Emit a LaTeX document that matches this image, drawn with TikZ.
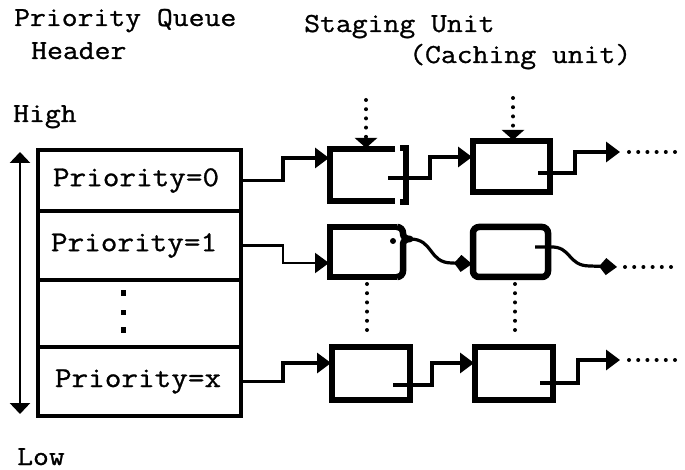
\documentclass[tikz,border=0pt]{standalone}
\usepackage{fontspec}
\setmonofont{Latin Modern Mono}[FakeStretch=1.12,FakeBold=1.0]
\usetikzlibrary{arrows.meta}
\begin{document}
\begin{tikzpicture}[x=1pt,y=-1pt,
  lbl/.style={inner sep=0pt,font=\fontsize{27.5}{30}\selectfont\ttfamily},
  hdr/.style={rectangle,draw,line width=4.8pt,minimum width=203pt,inner sep=0pt,outer sep=0pt,text width=173pt,align=left,font=\fontsize{28.8}{30}\selectfont\ttfamily},
  sbox/.style={rectangle,inner sep=0pt,outer sep=0pt},
  boxl/.style={line width=6.5pt},
  conn/.style={line width=3.2pt,-{Triangle[length=14pt,width=20pt]},shorten >=1pt},
  kconn/.style={line width=3.2pt,-{Kite[length=18pt,width=17pt,inset=7pt]},shorten >=1pt},
  dotl/.style={line width=4pt,line cap=round,dash pattern=on 0pt off 9.2pt},
  darr/.style={dotl,-{Triangle[length=10pt,width=22pt]},shorten >=1pt}]
\useasboundingbox (0,0) rectangle (685,470);

% titles
\node[lbl,anchor=base west] (t1) at (14,26) {Priority Queue};
\node[lbl,anchor=base west] (t2) at (31,59) {Header};
\node[lbl,anchor=base west] (t3) at (304,32) {Staging Unit};
\node[lbl,anchor=base west] (t4) at (409,63) {(Caching unit)};
\node[lbl,anchor=base west] (t5) at (13,122) {High};
\node[lbl,anchor=base west] (t6) at (17,465) {Low};

% header table
\node[hdr,minimum height=61pt] (r0) at (139.5,180.5) {Priority=0};
\node[hdr,minimum height=69pt] (r1) at (139.5,245.5) {\hspace*{-2pt}Priority=1};
\node[hdr,minimum height=67pt] (r2) at (139.5,313.5) {};
\node[hdr,minimum height=69pt] (r3) at (139.5,381.5) {\hspace*{2pt}Priority=x};
\fill (120.5,290) rectangle ++(5.5,6);
\fill (120.5,309.5) rectangle ++(5.5,5.5);
\fill (120.5,327) rectangle ++(5.5,6);

% high-low double arrow
\coordinate (hi) at (20,152);
\coordinate (lo) at (20,414);
\draw[line width=2.8pt,{Triangle[length=11pt,width=20pt]}-{Triangle[length=11pt,width=20pt]}] (hi) -- (lo);

% staging boxes
\node[sbox,minimum width=67pt,minimum height=52pt] (a0) at (363.5,175) {};
\draw[boxl] ([xshift=-2pt]a0.north east) -- (a0.north west) -- (a0.south west) -- ([xshift=-2pt]a0.south east);
\draw[boxl] ([shift={(3,-1)}]a0.north east) -- ++(6,0) -- ++(0,54) -- ++(-6,0);

\node[sbox,draw,line width=6.5pt,minimum width=77pt,minimum height=51pt] (b0) at (511.5,166.5) {};

\node[sbox,minimum width=67pt,minimum height=50pt] (a1) at (363.5,252) {};
\draw[boxl] (a1.north east) -- (a1.north west) -- (a1.south west) -- (a1.south east);
\draw[boxl,line join=round] (a1.north east) to[out=0,in=90] ++(6,6) -- ++(0,1) to[out=-90,in=180] ++(7,5) to[out=180,in=90] ++(-7,5) -- ++(0,27) to[out=-90,in=0] ++(-6,6);
\fill (393,241) circle (3);

\node[sbox,draw,line width=6.5pt,rounded corners=6pt,minimum width=75pt,minimum height=50pt] (b1) at (510.5,252) {};

\node[sbox,draw,line width=6.5pt,minimum width=78pt,minimum height=53pt] (ax) at (371,373.5) {};
\node[sbox,draw,line width=6.5pt,minimum width=78pt,minimum height=53pt] (bx) at (514,373.5) {};

% incoming dotted arrows
\coordinate (s0) at (366,100);
\coordinate (s1) at (513,98);
\draw[darr] (s0) -- ([xshift=2.5pt]a0.north);
\draw[darr] (s1) -- ([xshift=1.5pt]b0.north);

% vertical dotted continuations
\coordinate (v0a) at (367,284);
\coordinate (v0b) at (367,336);
\coordinate (v1a) at (515,284);
\coordinate (v1b) at (515,332);
\draw[dotl] (v0a) -- (v0b);
\draw[dotl] (v1a) -- (v1b);

% row 0 connectors
\draw[conn] (r0.east) -- ++(42,0) |- ([yshift=-9pt]a0.north west);
\coordinate (a0t) at (388,178);
\draw[conn] (a0t) -- ++(42,0) |- ([yshift=-16pt]b0.north west);
\coordinate (b0t) at (538,173);
\coordinate (d0) at (621,152);
\draw[conn] (b0t) -- ++(37,0) |- (d0);
\draw[dotl] ([xshift=8pt]d0) -- ++(50,0);

% row 1 connectors
\draw[conn,line width=2.2pt] (r1.east) -- ++(42,0) |- ([yshift=14pt]a1.south west);
\coordinate (a1tip) at (410,239);
\draw[kconn] (a1tip) .. controls (434,239) and (428,263) .. (452,263) -- ([yshift=13pt]b1.south west);
\coordinate (b1t) at (535,247);
\coordinate (d1) at (618,267);
\draw[kconn] (b1t) -- ++(15,0) .. controls (572,246) and (567,266) .. (590,266) -- (d1);
\draw[dotl] ([xshift=7pt]d1) -- ++(52,0);

% row x connectors
\draw[conn] (r3.east) -- ++(42,0) |- ([yshift=-16pt]ax.north west);
\coordinate (axt) at (393,385);
\draw[conn] (axt) -- ++(39,0) |- ([yshift=-16pt]bx.north west);
\coordinate (bxt) at (540,383);
\coordinate (dx) at (621,360);
\draw[conn] (bxt) -- ++(38,0) |- (dx);
\draw[dotl] ([xshift=8pt]dx) -- ++(48,0);
\end{tikzpicture}
\end{document}
